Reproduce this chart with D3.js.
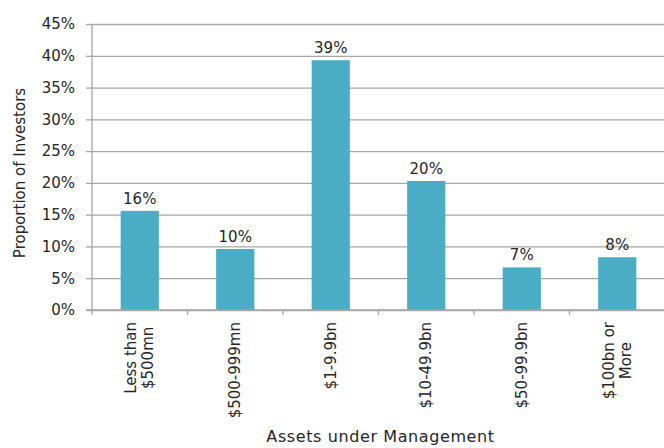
<!DOCTYPE html>
<html>
<head>
<meta charset="utf-8">
<script src="https://cdn.jsdelivr.net/npm/d3@7/dist/d3.min.js"></script>
<style>
  html, body { margin: 0; padding: 0; background: #fff; }
  svg { display: block; }
  text { font-family: "DejaVu Sans", sans-serif; fill: #262626; }
</style>
</head>
<body>
<svg id="chart" width="664" height="448"></svg>
<script>
// Share of investors by assets under management
const categories = ["Less than\n$500mn", "$500-999mn", "$1-9.9bn", "$10-49.9bn", "$50-99.9bn", "$100bn or\nMore"];
const shares = [0.156, 0.096, 0.393, 0.203, 0.067, 0.083];
const yTicks = [0, 0.05, 0.10, 0.15, 0.20, 0.25, 0.30, 0.35, 0.40, 0.45];

const yTitle = "Proportion of Investors";
const xTitle = "Assets under Management";

const W = 664, H = 448;
const margin = { top: 24, right: -1, bottom: 138, left: 92 };
const svg = d3.select("#chart");

const x0 = margin.left, x1 = W - margin.right;
const y0 = H - margin.bottom, y1 = margin.top;

const xCat = d3.scaleBand().domain(categories).range([x0, x1]).padding(0);
const xBar = d3.scaleBand().domain(categories).range([x0, x1]).paddingInner(0.6).paddingOuter(0.3);
const y = d3.scaleLinear().domain([0, 0.45]).range([y0, y1]);
const pct = d3.format(".0%");

const gridColor = "#a6a6a6";

// horizontal gridlines + y axis labels
const yAxis = d3.axisLeft(y).tickValues(yTicks).tickFormat(pct)
  .tickSizeInner(-(x1 - x0)).tickSizeOuter(0).tickPadding(17);
const gy = svg.append("g").attr("transform", `translate(${x0},0)`).call(yAxis);
gy.select(".domain").remove();
gy.selectAll(".tick line").attr("stroke", gridColor).attr("stroke-width", 1.3);
gy.selectAll(".tick text").style("font-size", "15px").attr("fill", "#262626");
// short outer tick marks left of the axis
gy.selectAll(".tick").append("line")
  .attr("x1", -6).attr("x2", 0).attr("stroke", gridColor).attr("stroke-width", 1.3);

// vertical axis line
svg.append("line").attr("x1", x0).attr("x2", x0).attr("y1", y1).attr("y2", y0)
  .attr("stroke", gridColor).attr("stroke-width", 1.3);

// bars
svg.append("g").selectAll("rect").data(categories).join("rect")
  .attr("x", d => xBar(d))
  .attr("width", xBar.bandwidth())
  .attr("y", (d, i) => y(shares[i]))
  .attr("height", (d, i) => y(0) - y(shares[i]))
  .attr("fill", "#4bacc6");

// value labels
svg.append("g").selectAll("text").data(categories).join("text")
  .attr("x", d => xBar(d) + xBar.bandwidth() / 2)
  .attr("y", (d, i) => y(shares[i]) - 7)
  .attr("text-anchor", "middle")
  .style("font-size", "15px")
  .text((d, i) => pct(shares[i]));

// x axis baseline and tick marks at category boundaries
svg.append("line").attr("x1", x0 - 6).attr("x2", x1).attr("y1", y0).attr("y2", y0)
  .attr("stroke", gridColor).attr("stroke-width", 1.3);
const bounds = categories.map(d => xCat(d)).concat([x1]);
svg.append("g").selectAll("line").data(bounds).join("line")
  .attr("x1", d => d).attr("x2", d => d)
  .attr("y1", y0).attr("y2", y0 + 5)
  .attr("stroke", gridColor).attr("stroke-width", 1.3);

// rotated category labels, lines centred within each block
const lineH = 17;
categories.forEach(cat => {
  const lines = cat.split("\n");
  const cx = xCat(cat) + xCat.bandwidth() / 2;
  const g = svg.append("g").attr("transform", `translate(${cx},${y0 + 12}) rotate(-90)`);
  const texts = lines.map((ln, k) => g.append("text")
    .attr("y", (k - (lines.length - 1) / 2) * lineH + 5)
    .attr("text-anchor", "middle")
    .style("font-size", "15px")
    .text(ln));
  const maxW = d3.max(texts, t => t.node().getComputedTextLength());
  texts.forEach(t => t.attr("x", -maxW / 2));
});

// axis titles
svg.append("text")
  .attr("transform", `translate(25,${(y0 + y1) / 2 + 6}) rotate(-90)`)
  .attr("text-anchor", "middle")
  .style("font-size", "15px")
  .text(yTitle);
svg.append("text")
  .attr("x", (x0 + x1) / 2 + 2)
  .attr("y", 442)
  .attr("text-anchor", "middle")
  .style("font-size", "16px")
  .style("letter-spacing", "0.6px")
  .text(xTitle);
</script>
</body>
</html>
